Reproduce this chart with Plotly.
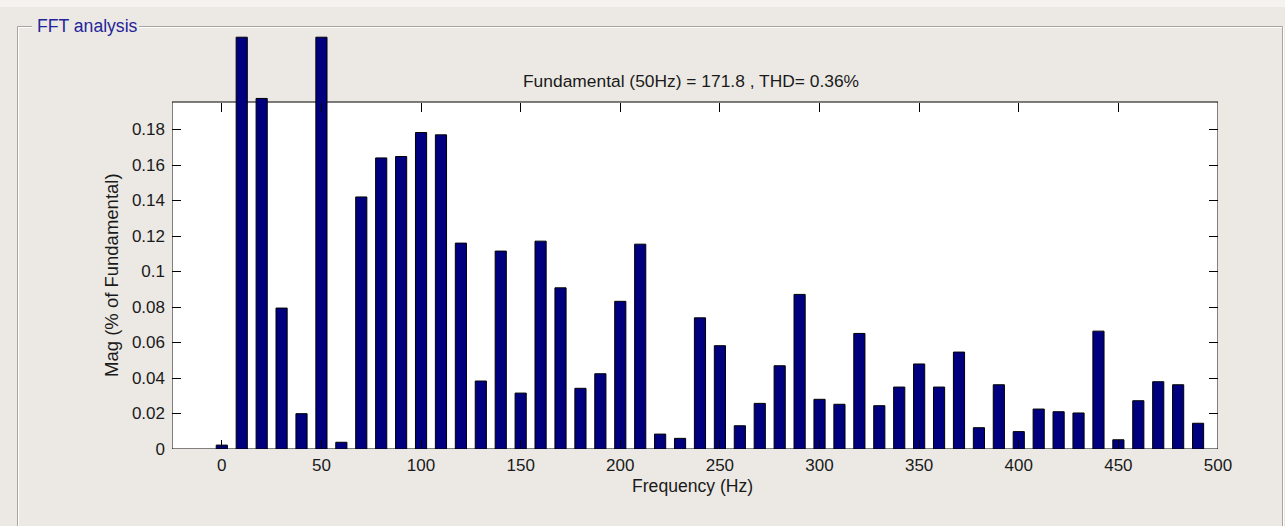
import plotly.graph_objects as go

# ---- data ----
freq_hz = [0, 10, 20, 30, 40, 50, 60, 70, 80, 90,
           100, 110, 120, 130, 140, 150, 160, 170, 180, 190,
           200, 210, 220, 230, 240, 250, 260, 270, 280, 290,
           300, 310, 320, 330, 340, 350, 360, 370, 380, 390,
           400, 410, 420, 430, 440, 450, 460, 470, 480, 490]
mag_pct = [0.0022, 0.232, 0.1975, 0.0794, 0.0199, 0.232, 0.0038, 0.1420, 0.1640, 0.1648,
           0.1783, 0.1770, 0.1160, 0.0383, 0.1115, 0.0315, 0.1171, 0.0908, 0.0342, 0.0424,
           0.0832, 0.1154, 0.0084, 0.0060, 0.0739, 0.0582, 0.0131, 0.0257, 0.0469, 0.0871,
           0.0280, 0.0252, 0.0651, 0.0244, 0.0349, 0.0479, 0.0349, 0.0546, 0.0120, 0.0362,
           0.0098, 0.0225, 0.0210, 0.0203, 0.0664, 0.0052, 0.0272, 0.0379, 0.0362, 0.0145]
x_ticks = [0, 50, 100, 150, 200, 250, 300, 350, 400, 450, 500]
x_tick_text = ["0", "50", "100", "150", "200", "250", "300", "350", "400", "450", "500"]
y_ticks = [0, 0.02, 0.04, 0.06, 0.08, 0.1, 0.12, 0.14, 0.16, 0.18]
y_tick_text = ["0", "0.02", "0.04", "0.06", "0.08", "0.1", "0.12", "0.14", "0.16", "0.18"]
x_limits = [-25, 500]
y_limits = [0, 0.1955]
title_text = "Fundamental (50Hz) = 171.8 , THD= 0.36%"
panel_title = "FFT analysis"

# ---- layout geometry (pixels) ----
W, H = 1285, 526
L, R, B = 172, 1218, 449          # axes box left/right/bottom
AX_TOP = 102                      # axes box top
T = 36                            # drawing area top (bars may exceed the box, like MATLAB)
BG = "#ECE9E4"
FONT = "Liberation Sans, Arial, sans-serif"

ppu = (B - AX_TOP) / (y_limits[1] - y_limits[0])   # pixels per unit on y
y_draw_max = (B - T) / ppu


def px(xp):
    return (xp - L) / (R - L)


def py(yp):
    return (B - yp) / (B - T)


fig = go.Figure()
fig.add_trace(go.Bar(
    x=freq_hz, y=mag_pct, width=5.6,
    marker=dict(color="#00007F", line=dict(color="#000000", width=1)),
    hoverinfo="x+y",
))

tick_common = dict(
    ticks="inside", ticklen=9, tickwidth=1, tickcolor="#000000",
    showgrid=False, zeroline=False, showline=False,
    tickfont=dict(family=FONT, size=17, color="#1a1a1a"),
)
top_frac = py(AX_TOP)

fig.update_layout(
    width=W, height=H,
    margin=dict(l=L, r=W - R, t=T, b=H - B, pad=0),
    paper_bgcolor=BG, plot_bgcolor=BG,
    showlegend=False,
    xaxis=dict(range=x_limits, tickmode="array", tickvals=x_ticks, ticktext=x_tick_text,
               ticklabelstandoff=4, **tick_common),
    xaxis2=dict(range=x_limits, tickmode="array", tickvals=x_ticks, ticktext=x_tick_text,
                overlaying="x", anchor="free", position=top_frac, side="top",
                showticklabels=False, **tick_common),
    yaxis=dict(range=[0, y_draw_max], tickmode="array", tickvals=y_ticks, ticktext=y_tick_text,
               ticklabelstandoff=6, **tick_common),
    yaxis2=dict(range=[0, y_draw_max], tickmode="array", tickvals=y_ticks, ticktext=y_tick_text,
                overlaying="y", anchor="x", side="right", showticklabels=False, **tick_common),
)
# invisible helper traces so the mirrored tick axes are drawn
fig.add_trace(go.Scatter(x=[x_limits[0]], y=[0], xaxis="x2", yaxis="y2", mode="markers",
                         marker=dict(opacity=0), hoverinfo="skip"))

# axes box: white face + black frame, beneath the bars
fig.add_shape(type="rect", xref="x", yref="y", x0=x_limits[0], x1=x_limits[1],
              y0=y_limits[0], y1=y_limits[1], fillcolor="#FFFFFF",
              line=dict(color="#000000", width=1), layer="below")

ann_font = dict(family=FONT, size=17.4, color="#1a1a1a")
fig.add_annotation(text=title_text, xref="paper", yref="paper", x=px(691), y=py(81),
                   showarrow=False, xanchor="center", yanchor="middle", font=ann_font)
fig.add_annotation(text="Frequency (Hz)", xref="paper", yref="paper", x=px(692), y=py(486),
                   showarrow=False, xanchor="center", yanchor="middle",
                   font=dict(family=FONT, size=17.6, color="#1a1a1a"))
fig.add_annotation(text="Mag (% of Fundamental)", xref="paper", yref="paper", x=px(111), y=py(275),
                   showarrow=False, xanchor="center", yanchor="middle", textangle=-90,
                   font=dict(family=FONT, size=18.5, color="#1a1a1a"))
fig.add_annotation(text=panel_title, xref="paper", yref="paper", x=px(35), y=py(26),
                   showarrow=False, xanchor="left", yanchor="middle",
                   font=dict(family=FONT, size=17.6, color="#24249A"))

# top lighter strip
fig.add_shape(type="rect", xref="paper", yref="paper", x0=px(0), x1=px(W), y0=py(0), y1=py(7),
              fillcolor="#F4F3EF", line=dict(width=0), layer="below")

# etched group box
dark = dict(color="#A5A49E", width=1)
light = dict(color="#FFFFFF", width=1)
segs = [
    (17.5, 26.5, 32, 26.5, dark), (17.5, 27.5, 32, 27.5, light),
    (139, 26.5, 1282.5, 26.5, dark), (139, 27.5, 1282.5, 27.5, light),
    (17.5, 26.5, 17.5, 526, dark), (18.5, 27.5, 18.5, 526, light),
    (1282.5, 26.5, 1282.5, 526, dark), (1283.5, 26.5, 1283.5, 526, light),
]
for x0, y0, x1, y1, ln in segs:
    fig.add_shape(type="line", xref="paper", yref="paper",
                  x0=px(x0), y0=py(y0), x1=px(x1), y1=py(y1), line=ln)

fig.write_html("out.html")
